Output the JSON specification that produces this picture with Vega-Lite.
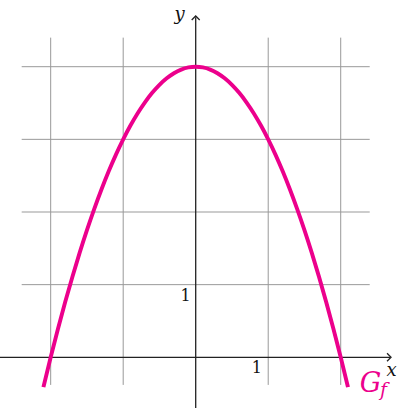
{
  "$schema": "https://vega.github.io/schema/vega-lite/v6.json",
  "width": 408,
  "height": 411,
  "autosize": {"type": "none"},
  "padding": 0,
  "background": "white",
  "config": {"view": {"stroke": null}},
  "encoding": {
    "x": {"field": "x", "type": "quantitative", "axis": null,
      "scale": {"domain": [-2.699, 2.928], "nice": false, "zero": false}},
    "y": {"field": "y", "type": "quantitative", "axis": null,
      "scale": {"domain": [-0.739, 4.918], "nice": false, "zero": false}}
  },
  "layer": [
    {
      "data": {"values": [
        {"x": -2, "y": -0.38, "x2": -2, "y2": 4.4},
        {"x": -1, "y": -0.38, "x2": -1, "y2": 4.4},
        {"x": 1, "y": -0.38, "x2": 1, "y2": 4.4},
        {"x": 2, "y": -0.38, "x2": 2, "y2": 4.4},
        {"x": -2.4, "y": 1, "x2": 2.4, "y2": 1},
        {"x": -2.4, "y": 2, "x2": 2.4, "y2": 2},
        {"x": -2.4, "y": 3, "x2": 2.4, "y2": 3},
        {"x": -2.4, "y": 4, "x2": 2.4, "y2": 4}
      ]},
      "mark": {"type": "rule", "color": "#999999", "strokeWidth": 1},
      "encoding": {"x2": {"field": "x2"}, "y2": {"field": "y2"}}
    },
    {
      "data": {"values": [
        {"x": -2.7, "y": 0, "x2": 2.68, "y2": 0},
        {"x": 0, "y": -0.698, "x2": 0, "y2": 4.68}
      ]},
      "mark": {"type": "rule", "color": "#222222", "strokeWidth": 1.3},
      "encoding": {"x2": {"field": "x2"}, "y2": {"field": "y2"}}
    },
    {
      "data": {"values": [{"x": 2.694, "y": 0}]},
      "mark": {"type": "point", "shape": "M-1,-1L0,0L-1,1", "size": 64, "filled": false, "color": "#222222", "strokeWidth": 1.3, "opacity": 1}
    },
    {
      "data": {"values": [{"x": 0, "y": 4.698}]},
      "mark": {"type": "point", "shape": "M-1,1L0,0L1,1", "size": 64, "filled": false, "color": "#222222", "strokeWidth": 1.3, "opacity": 1}
    },
    {
      "data": {"values": [
        {"x": -2.1, "y": -0.41}, {"x": -2.0, "y": 0}, {"x": -1.9, "y": 0.39},
        {"x": -1.8, "y": 0.76}, {"x": -1.7, "y": 1.11}, {"x": -1.6, "y": 1.44},
        {"x": -1.5, "y": 1.75}, {"x": -1.4, "y": 2.04}, {"x": -1.3, "y": 2.31},
        {"x": -1.2, "y": 2.56}, {"x": -1.1, "y": 2.79}, {"x": -1.0, "y": 3},
        {"x": -0.9, "y": 3.19}, {"x": -0.8, "y": 3.36}, {"x": -0.7, "y": 3.51},
        {"x": -0.6, "y": 3.64}, {"x": -0.5, "y": 3.75}, {"x": -0.4, "y": 3.84},
        {"x": -0.3, "y": 3.91}, {"x": -0.2, "y": 3.96}, {"x": -0.1, "y": 3.99},
        {"x": 0, "y": 4},
        {"x": 0.1, "y": 3.99}, {"x": 0.2, "y": 3.96}, {"x": 0.3, "y": 3.91},
        {"x": 0.4, "y": 3.84}, {"x": 0.5, "y": 3.75}, {"x": 0.6, "y": 3.64},
        {"x": 0.7, "y": 3.51}, {"x": 0.8, "y": 3.36}, {"x": 0.9, "y": 3.19},
        {"x": 1.0, "y": 3}, {"x": 1.1, "y": 2.79}, {"x": 1.2, "y": 2.56},
        {"x": 1.3, "y": 2.31}, {"x": 1.4, "y": 2.04}, {"x": 1.5, "y": 1.75},
        {"x": 1.6, "y": 1.44}, {"x": 1.7, "y": 1.11}, {"x": 1.8, "y": 0.76},
        {"x": 1.9, "y": 0.39}, {"x": 2.0, "y": 0}, {"x": 2.1, "y": -0.41}
      ]},
      "mark": {"type": "line", "color": "#ec008c", "strokeWidth": 3.9, "interpolate": "monotone", "strokeCap": "butt"},
      "encoding": {"order": {"field": "x", "type": "quantitative"}}
    },
    {
      "data": {"values": [
        {"x": 2.70, "y": -0.19, "label": "x"},
        {"x": -0.224, "y": 4.705, "label": "y"}
      ]},
      "mark": {"type": "text", "font": "DejaVu Serif", "fontStyle": "italic", "fontSize": 18, "baseline": "middle", "align": "center", "color": "#111111"},
      "encoding": {"text": {"field": "label"}}
    },
    {
      "data": {"values": [
        {"x": 0.843, "y": -0.147, "label": "1"},
        {"x": -0.141, "y": 0.844, "label": "1"}
      ]},
      "mark": {"type": "text", "font": "DejaVu Serif", "fontSize": 16, "baseline": "middle", "align": "center", "color": "#111111"},
      "encoding": {"text": {"field": "label"}}
    },
    {
      "data": {"values": [{"x": 2.41, "y": -0.473, "label": "G"}]},
      "mark": {"type": "text", "font": "DejaVu Serif", "fontStyle": "italic", "fontSize": 27, "baseline": "alphabetic", "align": "center", "color": "#ec008c"},
      "encoding": {"text": {"field": "label"}}
    },
    {
      "data": {"values": [{"x": 2.59, "y": -0.45, "label": "f"}]},
      "mark": {"type": "text", "font": "DejaVu Serif", "fontStyle": "italic", "fontSize": 19, "baseline": "middle", "align": "center", "color": "#ec008c"},
      "encoding": {"text": {"field": "label"}}
    }
  ]
}
